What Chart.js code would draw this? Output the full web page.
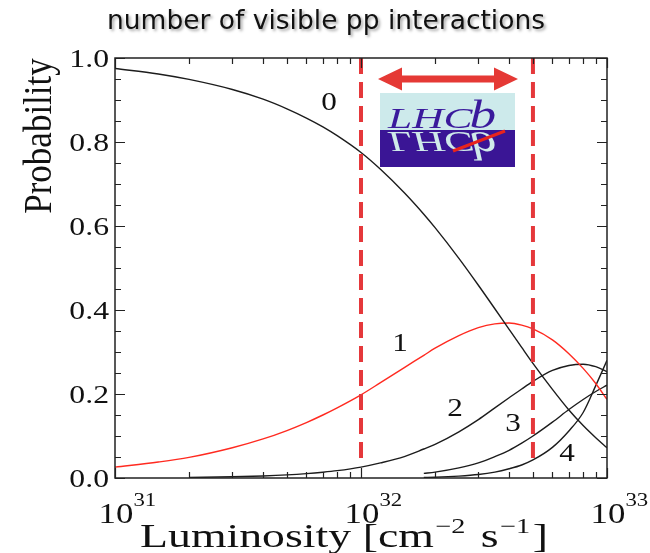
<!DOCTYPE html>
<html>
<head>
<meta charset="utf-8">
<script src="https://cdn.jsdelivr.net/npm/chart.js@4.4.1/dist/chart.umd.min.js"></script>
<style>
  html, body { margin: 0; padding: 0; background: #ffffff; }
  #wrap { width: 650px; height: 553px; position: relative; }
</style>
</head>
<body>
<div id="wrap"><canvas id="c" width="650" height="553"></canvas></div>
<script>
// Luminosity sample points [cm^-2 s^-1]
const lumi = [1e31, 1.5e31, 2e31, 3e31, 4e31, 5e31, 6e31, 7e31, 8e31, 1e32, 1.2e32, 1.5e32, 1.8e32, 2e32,
              2.5e32, 3e32, 3.5e32, 4e32, 4.5e32, 5e32, 6e32, 7e32, 8e32, 9e32, 1e33];

// Probability of 0, 1, 2, 3 and 4 (or more) visible pp interactions per crossing
const p0 = [0.975, 0.962, 0.949, 0.925, 0.902, 0.879, 0.857, 0.836, 0.815, 0.775, 0.735, 0.679, 0.628, 0.596,
            0.523, 0.459, 0.403, 0.354, 0.311, 0.273, 0.211, 0.162, 0.125, 0.096, 0.072];
const p1 = [0.026, 0.038, 0.049, 0.072, 0.093, 0.113, 0.132, 0.150, 0.167, 0.198, 0.227, 0.263, 0.292, 0.309,
            0.339, 0.358, 0.367, 0.369, 0.364, 0.355, 0.329, 0.296, 0.261, 0.225, 0.187];
const p2 = [null, null, 0.0013, 0.0028, 0.0049, 0.0074, 0.0104, 0.0138, 0.0175, 0.026, 0.036, 0.051, 0.069, 0.080,
            0.110, 0.139, 0.167, 0.191, 0.212, 0.230, 0.256, 0.268, 0.271, 0.265, 0.253];
const p3 = [null, null, null, null, null, null, null, null, null, null, null, null, 0.011, 0.014,
            0.024, 0.036, 0.051, 0.066, 0.083, 0.100, 0.133, 0.163, 0.187, 0.206, 0.221];
const p4 = [null, null, null, null, null, null, null, null, null, null, null, null, 0.0013, 0.0019,
            0.0045, 0.0082, 0.014, 0.022, 0.031, 0.043, 0.073, 0.112, 0.156, 0.220, 0.280];

// Nominal LHCb running range
const rangeEdges = [1e32, 5e32];
const rangeLineSpan = [1.0, 0.035];

// Axis ticks
const xMajor = [1e31, 1e32, 1e33];
const xMajorExp = ['31', '32', '33'];
const yMajor = [0.0, 0.2, 0.4, 0.6, 0.8, 1.0];
const yTickLabels = ['0.0', '0.2', '0.4', '0.6', '0.8', '1.0'];
const curveNames = ['0', '1', '2', '3', '4'];

const SERIF = '"Liberation Serif", "Times New Roman", serif';
const BLACK = '#1c1c1c';
const RED = '#ff2a20';
const DASH_RED = '#e5383b';

function pts(ys) {
  return lumi.map((x, i) => ({ x: x, y: ys[i] }));
}

// draw text horizontally stretched by sx
function sText(ctx, text, x, y, font, sx, align) {
  ctx.save();
  ctx.font = font;
  ctx.textBaseline = 'alphabetic';
  ctx.textAlign = 'left';
  const w = ctx.measureText(text).width * sx;
  let x0 = x;
  if (align === 'center') x0 = x - w / 2;
  else if (align === 'right') x0 = x - w;
  ctx.translate(x0, y);
  ctx.scale(sx, 1);
  ctx.fillText(text, 0, 0);
  ctx.restore();
  return w;
}
function textWidth(ctx, text, font) {
  ctx.save(); ctx.font = font;
  const w = ctx.measureText(text).width;
  ctx.restore();
  return w;
}

const datasets = [
  { data: pts(p0), borderColor: BLACK, borderWidth: 1.4, order: 2 },
  { data: pts(p1), borderColor: RED, borderWidth: 1.4, order: 2 },
  { data: pts(p2), borderColor: BLACK, borderWidth: 1.4, order: 2 },
  { data: pts(p3), borderColor: BLACK, borderWidth: 1.4, order: 2 },
  { data: pts(p4), borderColor: BLACK, borderWidth: 1.4, order: 2 }
];
rangeEdges.forEach(L => {
  datasets.push({
    data: rangeLineSpan.map(v => ({ x: L, y: v })),
    borderColor: DASH_RED, borderWidth: 4, borderDash: [16, 8], order: 1,
    cubicInterpolationMode: 'default', tension: 0
  });
});
datasets.forEach(d => {
  d.pointRadius = 0;
  d.fill = false;
  d.spanGaps = false;
  if (d.order === 2) d.cubicInterpolationMode = 'monotone';
});

const decor = {
  id: 'decor',
  afterDatasetsDraw(chart) {
    const ctx = chart.ctx;
    const xs = chart.scales.x, ys = chart.scales.y;
    const a = chart.chartArea;

    // frame
    ctx.save();
    ctx.strokeStyle = '#222';
    ctx.lineWidth = 1.5;
    ctx.strokeRect(a.left, a.top, a.right - a.left, a.bottom - a.top);

    // y ticks (inside, both sides)
    ctx.lineWidth = 1.2;
    for (let k = 0; k <= 20; k++) {
      const v = k * 0.05;
      const py = Math.round(ys.getPixelForValue(v)) + 0.5;
      const len = (k % 4 === 0) ? 10 : 6;
      ctx.beginPath();
      ctx.moveTo(a.left, py); ctx.lineTo(a.left + len, py);
      ctx.moveTo(a.right, py); ctx.lineTo(a.right - len, py);
      ctx.stroke();
    }
    // x ticks (inside, top and bottom)
    for (let dec = 31; dec <= 33; dec++) {
      for (let m = 1; m <= 9; m++) {
        if (dec === 33 && m > 1) break;
        const v = m * Math.pow(10, dec);
        const px = Math.round(xs.getPixelForValue(v)) + 0.5;
        const len = (m === 1) ? 10 : 6;
        ctx.beginPath();
        ctx.moveTo(px, a.bottom); ctx.lineTo(px, a.bottom - len);
        ctx.moveTo(px, a.top); ctx.lineTo(px, a.top + len);
        ctx.stroke();
      }
    }
    ctx.restore();

    ctx.save();
    ctx.fillStyle = '#111';
    // y tick labels
    yMajor.forEach((v, i) => {
      const py = ys.getPixelForValue(v);
      sText(ctx, yTickLabels[i], 109, py + 9, '26px ' + SERIF, 1.22, 'right');
    });
    // x tick labels: 10 with superscript exponent
    xMajor.forEach((v, i) => {
      const px = xs.getPixelForValue(v);
      const w = sText(ctx, '10', px + 1, 523, '29px ' + SERIF, 1.2, 'center');
      sText(ctx, xMajorExp[i], px + 1 + w / 2, 506, '19px ' + SERIF, 1.2, 'left');
    });

    // x axis title, fitted between x=140 and x=548
    {
      const big = '34px ' + SERIF, small = '21px ' + SERIF;
      const parts = [['Luminosity [cm', big, 0, 0], ['\u22122', small, -14, 1], [' s', big, 0, 3],
                     ['\u22121', small, -14, 1], [']', big, 0, 2]];
      let natural = 0;
      parts.forEach(p => natural += textWidth(ctx, p[0], p[1]) + p[3]);
      const sx = 408 / natural;
      let x = 140;
      const base = 547;
      parts.forEach(p => {
        x += p[3] * sx;
        x += sText(ctx, p[0], x, base + p[2], p[1], sx, 'left');
      });
    }

    // y axis title
    ctx.save();
    ctx.translate(51, 136);
    ctx.rotate(-Math.PI / 2);
    ctx.font = '35px ' + SERIF;
    ctx.textAlign = 'center';
    ctx.textBaseline = 'alphabetic';
    ctx.scale(1, 1.15);
    ctx.fillText('Probability', 0, 0);
    ctx.restore();

    // curve labels
    const lab = '26px ' + SERIF;
    const labPos = [[329, 110], [400, 351], [455, 416], [513, 431], [567, 461]];
    curveNames.forEach((t, i) => sText(ctx, t, labPos[i][0], labPos[i][1], lab, 1.2, 'center'));

    // title
    ctx.save();
    ctx.shadowColor = 'rgba(0,0,0,0.35)';
    ctx.shadowBlur = 3;
    ctx.shadowOffsetX = 2;
    ctx.shadowOffsetY = 2;
    ctx.fillStyle = '#111';
    {
      const font = '27px "DejaVu Sans", sans-serif';
      const t = 'number of visible pp interactions';
      const sx = 438 / textWidth(ctx, t, font);
      sText(ctx, t, 326, 29, font, sx, 'center');
    }
    ctx.restore();
    ctx.restore();

    // double arrow over the running range
    ctx.save();
    ctx.fillStyle = '#e53935';
    const ax0 = 378, ax1 = 518, ay = 79, head = 24, hh = 11.5, sh = 3.5;
    ctx.beginPath();
    ctx.moveTo(ax0, ay);
    ctx.lineTo(ax0 + head, ay - hh);
    ctx.lineTo(ax0 + head, ay - sh);
    ctx.lineTo(ax1 - head, ay - sh);
    ctx.lineTo(ax1 - head, ay - hh);
    ctx.lineTo(ax1, ay);
    ctx.lineTo(ax1 - head, ay + hh);
    ctx.lineTo(ax1 - head, ay + sh);
    ctx.lineTo(ax0 + head, ay + sh);
    ctx.lineTo(ax0 + head, ay + hh);
    ctx.closePath();
    ctx.fill();
    ctx.restore();

    // LHCb logo
    ctx.save();
    const lx = 380, lw = 135, ltop = 93, lmid = 130, lbot = 167;
    ctx.fillStyle = '#cdeaeb';
    ctx.fillRect(lx, ltop, lw, lmid - ltop);
    ctx.fillStyle = '#3a1595';
    ctx.fillRect(lx, lmid, lw, lbot - lmid);
    const drawLogoText = (color) => {
      ctx.fillStyle = color;
      const wl = sText(ctx, 'LHC', 388, 0, 'italic 29px ' + SERIF, 1.5, 'left');
      sText(ctx, 'b', 388 + wl - 3, 0, 'italic 41px ' + SERIF, 1.3, 'left');
    };
    ctx.save();
    ctx.beginPath(); ctx.rect(lx, ltop, lw, lmid - ltop); ctx.clip();
    ctx.translate(0, 128);
    drawLogoText('#3a1a9c');
    ctx.restore();
    ctx.save();
    ctx.beginPath(); ctx.rect(lx, lmid, lw, lbot - lmid); ctx.clip();
    ctx.translate(0, 132);
    ctx.scale(1, -1);
    drawLogoText('#cfeaea');
    ctx.restore();
    ctx.strokeStyle = '#e8241c';
    ctx.lineWidth = 3;
    ctx.beginPath();
    ctx.moveTo(453, 151);
    ctx.lineTo(505, 131);
    ctx.stroke();
    ctx.restore();
  }
};

new Chart(document.getElementById('c'), {
  type: 'line',
  data: { datasets: datasets },
  options: {
    responsive: false,
    animation: false,
    devicePixelRatio: 1,
    layout: { padding: { left: 115, right: 43, top: 58, bottom: 75 } },
    plugins: { legend: { display: false }, tooltip: { enabled: false }, title: { display: false } },
    scales: {
      x: { type: 'logarithmic', min: 1e31, max: 1e33, display: false },
      y: { type: 'linear', min: 0, max: 1, display: false }
    }
  },
  plugins: [decor]
});
</script>
</body>
</html>
